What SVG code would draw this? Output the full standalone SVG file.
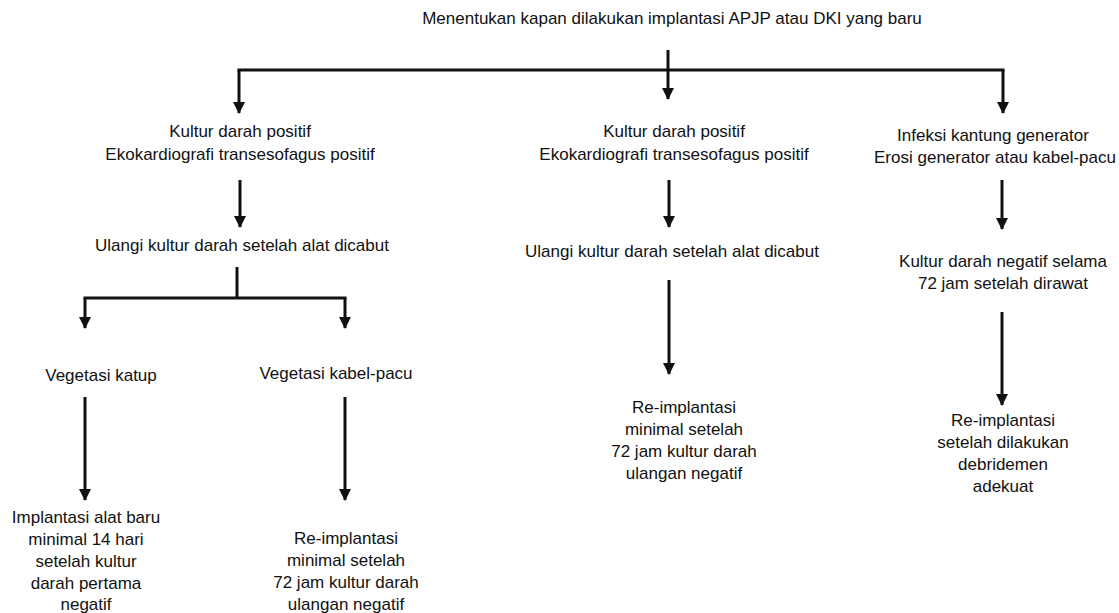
<svg xmlns="http://www.w3.org/2000/svg" width="1119" height="613" viewBox="0 0 1119 613">
<style>
text{font-family:"Liberation Sans",Arial,sans-serif;font-size:17px;fill:#111;text-anchor:middle}
.c{fill:none;stroke:#111;stroke-width:3}
.a{fill:none;stroke:#111;stroke-width:3;marker-end:url(#ah)}
</style>
<defs>
<marker id="ah" markerUnits="userSpaceOnUse" markerWidth="12" markerHeight="12" refX="11" refY="6" orient="auto" viewBox="0 0 12 12">
<path d="M0,0 L12,6 L0,12 Z" fill="#111"/>
</marker>
</defs>
<rect width="1119" height="613" fill="#fff"/>
<g id="connectors">
<path class="a" d="M668,50 V99"/>
<path class="a" d="M239,70 V113"/>
<path class="a" d="M1003,70 V113"/>
<path class="c" d="M237.5,70 H1004.5"/>
<path class="a" d="M240,180 V227"/>
<path class="c" d="M237,267 V298"/>
<path class="c" d="M83.5,298 H346.5"/>
<path class="a" d="M85,298 V328"/>
<path class="a" d="M345,298 V328"/>
<path class="a" d="M85,397 V500"/>
<path class="a" d="M345,397 V500"/>
<path class="a" d="M669,180 V227"/>
<path class="a" d="M669,280 V374"/>
<path class="a" d="M1002,180 V229"/>
<path class="a" d="M1002,312 V405"/>
</g>
<g id="n-root"><text x="672" y="24">Menentukan kapan dilakukan implantasi APJP atau DKI yang baru</text></g>
<g id="n-left1"><text x="240" y="137">Kultur darah positif</text><text x="240" y="160">Ekokardiografi transesofagus positif</text></g>
<g id="n-left2"><text x="242" y="251">Ulangi kultur darah setelah alat dicabut</text></g>
<g id="n-vk"><text x="101" y="381">Vegetasi katup</text></g>
<g id="n-vkp"><text x="336" y="379">Vegetasi kabel-pacu</text></g>
<g id="n-impl"><text x="86" y="523">Implantasi alat baru</text><text x="86" y="545">minimal 14 hari</text><text x="86" y="567">setelah kultur</text><text x="86" y="589">darah pertama</text><text x="86" y="610">negatif</text></g>
<g id="n-reimp1"><text x="346" y="544">Re-implantasi</text><text x="346" y="566">minimal setelah</text><text x="346" y="588">72 jam kultur darah</text><text x="346" y="610">ulangan negatif</text></g>
<g id="n-mid1"><text x="674" y="137">Kultur darah positif</text><text x="674" y="160">Ekokardiografi transesofagus positif</text></g>
<g id="n-mid2"><text x="672" y="257">Ulangi kultur darah setelah alat dicabut</text></g>
<g id="n-mid3"><text x="684" y="413">Re-implantasi</text><text x="684" y="435">minimal setelah</text><text x="684" y="457">72 jam kultur darah</text><text x="684" y="479">ulangan negatif</text></g>
<g id="n-right1"><text x="993" y="141">Infeksi kantung generator</text><text x="995" y="163">Erosi generator atau kabel-pacu</text></g>
<g id="n-right2"><text x="1003" y="267">Kultur darah negatif selama</text><text x="1003" y="289">72 jam setelah dirawat</text></g>
<g id="n-right3"><text x="1003" y="426">Re-implantasi</text><text x="1003" y="448">setelah dilakukan</text><text x="1003" y="470">debridemen</text><text x="1003" y="492">adekuat</text></g>
</svg>
